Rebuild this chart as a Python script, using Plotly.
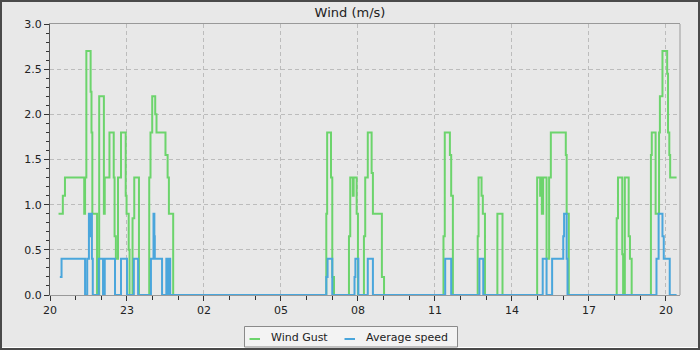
import plotly.graph_objects as go
import pandas as pd

# ---- data ----
gust_time = [
    "05-20 20:20", "05-20 20:30", "05-20 20:35", "05-20 21:20", "05-20 21:22", "05-20 21:25",
    "05-20 21:35", "05-20 21:37", "05-20 21:39", "05-20 21:50", "05-20 21:55", "05-20 22:06",
    "05-20 22:08", "05-20 22:19", "05-20 22:29", "05-20 22:31", "05-20 22:34", "05-20 22:39",
    "05-20 22:46", "05-20 22:57", "05-20 22:59", "05-20 23:04", "05-20 23:06", "05-20 23:13",
    "05-20 23:17", "05-20 23:28", "05-20 23:52", "05-20 23:55", "05-20 23:59", "05-21 00:06",
    "05-21 00:09", "05-21 00:30", "05-21 00:35", "05-21 00:38", "05-21 00:48",
    "05-21 06:46", "05-21 06:48", "05-21 06:57", "05-21 07:00", "05-21 07:04", "05-21 07:39",
    "05-21 07:42", "05-21 07:48", "05-21 07:50", "05-21 07:57", "05-21 08:00", "05-21 08:14",
    "05-21 08:17", "05-21 08:23", "05-21 08:32", "05-21 08:35", "05-21 08:56", "05-21 09:01",
    "05-21 11:20", "05-21 11:23", "05-21 11:35", "05-21 11:38", "05-21 11:42",
    "05-21 12:40", "05-21 12:42", "05-21 12:49", "05-21 12:52", "05-21 12:57",
    "05-21 13:26", "05-21 13:38",
    "05-21 14:59", "05-21 15:06", "05-21 15:09", "05-21 15:10", "05-21 15:13", "05-21 15:21",
    "05-21 15:27", "05-21 15:31", "05-21 16:06", "05-21 16:08", "05-21 16:13",
    "05-21 18:05", "05-21 18:08", "05-21 18:18", "05-21 18:20", "05-21 18:24", "05-21 18:33",
    "05-21 18:36", "05-21 18:40", "05-21 19:25", "05-21 19:27", "05-21 19:36", "05-21 19:44",
    "05-21 19:46", "05-21 19:52", "05-21 20:03", "05-21 20:05", "05-21 20:08", "05-21 20:10",
    "05-21 20:25",
]
gust_value = [
    0.9, 1.1, 1.3, 0.9, 1.3, 2.7,
    2.25, 1.8, 0.9, 0.0, 2.2, 0.9,
    1.3, 1.8, 1.3, 0.65, 0.4, 1.3,
    1.8, 1.1, 0.9, 0.5, 0.0, 0.85,
    1.3, 0.0, 1.3, 1.8, 2.2, 2.0,
    1.8, 1.55, 1.3, 0.9, 0.0,
    0.9, 1.8, 1.3, 0.2, 0.0, 0.65,
    1.3, 1.1, 1.3, 0.9, 0.0, 0.65,
    1.3, 1.8, 1.35, 0.9, 0.2, 0.0,
    0.65, 1.8, 1.55, 1.1, 0.0,
    0.65, 1.3, 1.1, 0.9, 0.0,
    0.9, 0.0,
    1.3, 1.1, 1.3, 0.9, 1.3, 0.4,
    1.3, 1.8, 1.55, 0.9, 0.0,
    0.85, 1.3, 0.45, 0.0, 1.3, 0.65,
    0.4, 0.0, 1.55, 1.8, 0.9, 1.8,
    2.2, 2.7, 2.45, 1.8, 1.55, 1.3,
    1.3,
]

avg_time = [
    "05-20 20:23", "05-20 20:27", "05-20 21:22", "05-20 21:27", "05-20 21:31", "05-20 21:34",
    "05-20 21:35", "05-20 21:38", "05-20 21:40", "05-20 21:54", "05-20 22:04", "05-20 22:08",
    "05-20 22:32", "05-20 22:46", "05-20 23:00", "05-20 23:16", "05-20 23:26", "05-20 23:56",
    "05-21 00:02", "05-21 00:04", "05-21 00:05", "05-21 00:22", "05-21 00:32", "05-21 00:36",
    "05-21 00:38", "05-21 00:41",
    "05-21 06:46", "05-21 06:49", "05-21 07:00", "05-21 07:52", "05-21 07:54", "05-21 08:01",
    "05-21 08:23", "05-21 08:35",
    "05-21 11:24", "05-21 11:38", "05-21 12:44", "05-21 12:53",
    "05-21 15:12", "05-21 15:21", "05-21 15:34", "05-21 16:00", "05-21 16:02", "05-21 16:08",
    "05-21 16:10",
    "05-21 19:38", "05-21 19:43", "05-21 19:52", "05-21 19:55", "05-21 20:09", "05-21 20:25",
]
avg_value = [
    0.2, 0.4, 0.0, 0.4, 0.9, 0.65,
    0.9, 0.4, 0.0, 0.4, 0.0, 0.4,
    0.0, 0.4, 0.0, 0.4, 0.0, 0.4,
    0.9, 0.65, 0.4, 0.0, 0.4, 0.0,
    0.4, 0.0,
    0.2, 0.4, 0.0, 0.2, 0.4, 0.0,
    0.4, 0.0,
    0.4, 0.0, 0.4, 0.0,
    0.4, 0.0, 0.4, 0.65, 0.9, 0.4,
    0.0,
    0.4, 0.9, 0.65, 0.4, 0.0, 0.0,
]

series_names = ["Wind Gust", "Average speed"]
series_colors = ["#6cd46c", "#4aa6dc"]
title_text = "Wind (m/s)"
x_start, x_end = "2024-05-20 20:00", "2024-05-21 20:33"

gust_dt = pd.to_datetime(["2024-" + t for t in gust_time])
avg_dt = pd.to_datetime(["2024-" + t for t in avg_time])

FONT = "DejaVu Sans"
fig = go.Figure()
fig.add_trace(go.Scatter(x=gust_dt, y=gust_value, mode="lines", line_shape="hv",
                         line=dict(color=series_colors[0], width=2),
                         name=series_names[0], showlegend=False))
fig.add_trace(go.Scatter(x=avg_dt, y=avg_value, mode="lines", line_shape="hv",
                         line=dict(color=series_colors[1], width=2),
                         name=series_names[1], showlegend=False))

W, H = 700, 350
L, R, T, B = 50, 20, 24, 55
pw, ph = W - L - R, H - T - B


def px(x):
    return (x - L) / pw


def py(y):
    return (H - B - y) / ph


shapes = []
# right border of plot area
shapes.append(dict(type="line", xref="paper", yref="paper", x0=1, x1=1, y0=0, y1=1,
                   line=dict(color="#9a9a9a", width=1)))
# outer frame
shapes.append(dict(type="rect", xref="paper", yref="paper",
                   x0=px(1), x1=px(699), y0=py(349), y1=py(1),
                   line=dict(color="#4a4a4a", width=2), layer="above"))
shapes.append(dict(type="line", xref="paper", yref="paper",
                   x0=px(2), x1=px(698), y0=py(347.5), y1=py(347.5),
                   line=dict(color="#ffffff", width=1)))
# legend box
shapes.append(dict(type="rect", xref="paper", yref="paper",
                   x0=px(244.5), x1=px(457.5), y0=py(347), y1=py(326.5),
                   fillcolor="#f3f3f3", line=dict(color="#8a8a8a", width=1)))
legend_items = [(249.5, 269, 0), (344.5, 364, 1)]
annotations = []
for sx, tx, i in legend_items:
    shapes.append(dict(type="line", xref="paper", yref="paper",
                       x0=px(sx), x1=px(sx + 10.5), y0=py(339), y1=py(339),
                       line=dict(color=series_colors[i], width=2)))
    annotations.append(dict(text=series_names[i], xref="paper", yref="paper",
                            x=px(tx), y=py(337.5), xanchor="left", yanchor="middle",
                            showarrow=False, font=dict(family=FONT, size=11, color="#222222")))

fig.update_layout(
    width=W, height=H,
    margin=dict(l=L, r=R, t=T, b=B),
    paper_bgcolor="#e8e8e8", plot_bgcolor="#e8e8e8",
    font=dict(family=FONT, size=11, color="#222222"),
    title=dict(text=title_text, x=0.5, xanchor="center", y=1 - 12 / H, yanchor="middle",
               font=dict(family=FONT, size=13, color="#222222")),
    showlegend=False,
    shapes=shapes, annotations=annotations,
    xaxis=dict(type="date", range=[x_start, x_end], tickformat="%H",
               tick0="2024-05-20 20:00", dtick=3 * 3600 * 1000,
               ticks="outside", ticklen=5, tickcolor="#333333",
               showgrid=True, gridcolor="#bcbcbc", griddash="4px,3px", gridwidth=1,
               showline=True, linecolor="#999999", mirror=True,
               minor=dict(dtick=3600 * 1000, ticks="outside", ticklen=4,
                          tickcolor="#333333", showgrid=False),
               tickfont=dict(family=FONT, size=11, color="#222222"), zeroline=False),
    yaxis=dict(range=[0, 3], dtick=0.5, tickformat=".1f",
               ticks="outside", ticklen=5, tickcolor="#333333",
               showgrid=True, gridcolor="#bcbcbc", griddash="4px,3px", gridwidth=1,
               showline=True, linecolor="#555555",
               minor=dict(dtick=0.1, ticks="outside", ticklen=3,
                          tickcolor="#333333", showgrid=False),
               tickfont=dict(family=FONT, size=11, color="#222222"), zeroline=False),
)

fig.write_html("out.html")
